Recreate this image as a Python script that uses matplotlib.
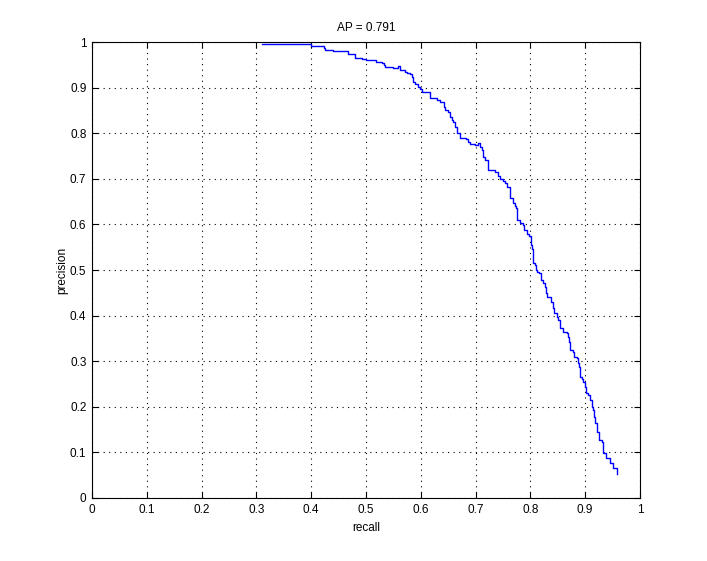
import numpy as np
import matplotlib
matplotlib.use("Agg")
import matplotlib.pyplot as plt

# precision / recall vertices (step curve)
recall = [0.31, 0.40, 0.423, 0.426, 0.44, 0.467, 0.48, 0.493, 0.50, 0.518,
          0.53, 0.532, 0.535, 0.549, 0.558, 0.562, 0.571, 0.575, 0.580, 0.584,
          0.586, 0.590, 0.595, 0.599, 0.603, 0.617, 0.630, 0.635, 0.642, 0.644,
          0.650, 0.653, 0.657, 0.659, 0.662, 0.666, 0.671, 0.682, 0.686, 0.690,
          0.699, 0.704, 0.708, 0.711, 0.714, 0.717, 0.723, 0.735, 0.741, 0.745,
          0.750, 0.754, 0.757, 0.763, 0.768, 0.772, 0.774, 0.776, 0.781, 0.786,
          0.788, 0.794, 0.797, 0.801, 0.803, 0.805, 0.808, 0.810, 0.812, 0.816,
          0.819, 0.823, 0.827, 0.829, 0.830, 0.838, 0.841, 0.843, 0.849, 0.851,
          0.854, 0.860, 0.867, 0.869, 0.870, 0.872, 0.877, 0.879, 0.885, 0.887,
          0.889, 0.891, 0.894, 0.896, 0.900, 0.902, 0.905, 0.909, 0.912, 0.914,
          0.916, 0.918, 0.921, 0.925, 0.930, 0.933, 0.938, 0.945, 0.951, 0.958]
precision = [0.996, 0.991, 0.986, 0.982, 0.980, 0.974, 0.965, 0.963, 0.960, 0.956,
             0.954, 0.950, 0.945, 0.943, 0.947, 0.939, 0.934, 0.932, 0.930, 0.924,
             0.912, 0.909, 0.901, 0.897, 0.890, 0.877, 0.873, 0.869, 0.857, 0.851,
             0.846, 0.836, 0.830, 0.825, 0.814, 0.800, 0.789, 0.787, 0.780, 0.776,
             0.774, 0.778, 0.770, 0.763, 0.748, 0.741, 0.719, 0.715, 0.706, 0.700,
             0.695, 0.690, 0.682, 0.658, 0.647, 0.640, 0.636, 0.610, 0.603, 0.599,
             0.588, 0.580, 0.575, 0.555, 0.545, 0.515, 0.510, 0.500, 0.496, 0.494,
             0.478, 0.471, 0.463, 0.450, 0.441, 0.430, 0.417, 0.405, 0.397, 0.390,
             0.373, 0.364, 0.362, 0.353, 0.342, 0.325, 0.320, 0.309, 0.307, 0.296,
             0.287, 0.265, 0.262, 0.254, 0.243, 0.230, 0.226, 0.215, 0.200, 0.193,
             0.178, 0.165, 0.145, 0.127, 0.123, 0.099, 0.088, 0.077, 0.066, 0.053]
ticks = np.round(np.arange(0, 1.01, 0.1), 1)
tick_labels = ["0"] + ["%.1f" % t for t in ticks[1:-1]] + ["1"]
ap = 0.791

plt.rcParams['font.family'] = ['Liberation Sans', 'DejaVu Sans']
plt.rcParams['font.size'] = 8.5

fig = plt.figure(figsize=(7.07, 5.61), dpi=100)
ax = fig.add_axes([0.1301, 0.1123, 0.7751, 0.8128])
ax.plot(recall, precision, color=(0, 0, 1), lw=1.0, drawstyle='steps-post')

ax.set_xlim(0, 1)
ax.set_ylim(0, 1)
ax.set_xticks(ticks)
ax.set_yticks(ticks)
ax.set_xticklabels(tick_labels)
ax.set_yticklabels(tick_labels)
ax.tick_params(direction='in', top=True, right=True, length=4, width=0.8, pad=4)
ax.grid(True, color='black', linestyle=(0, (1, 4)), linewidth=0.8)
for s in ax.spines.values():
    s.set_linewidth(0.8)

ax.set_xlabel("recall", labelpad=5)
ax.set_ylabel("precision", labelpad=1)
ax.set_title("AP = %.3f" % ap, fontsize=8.5, pad=8)

fig.savefig("out.png", dpi=100)
